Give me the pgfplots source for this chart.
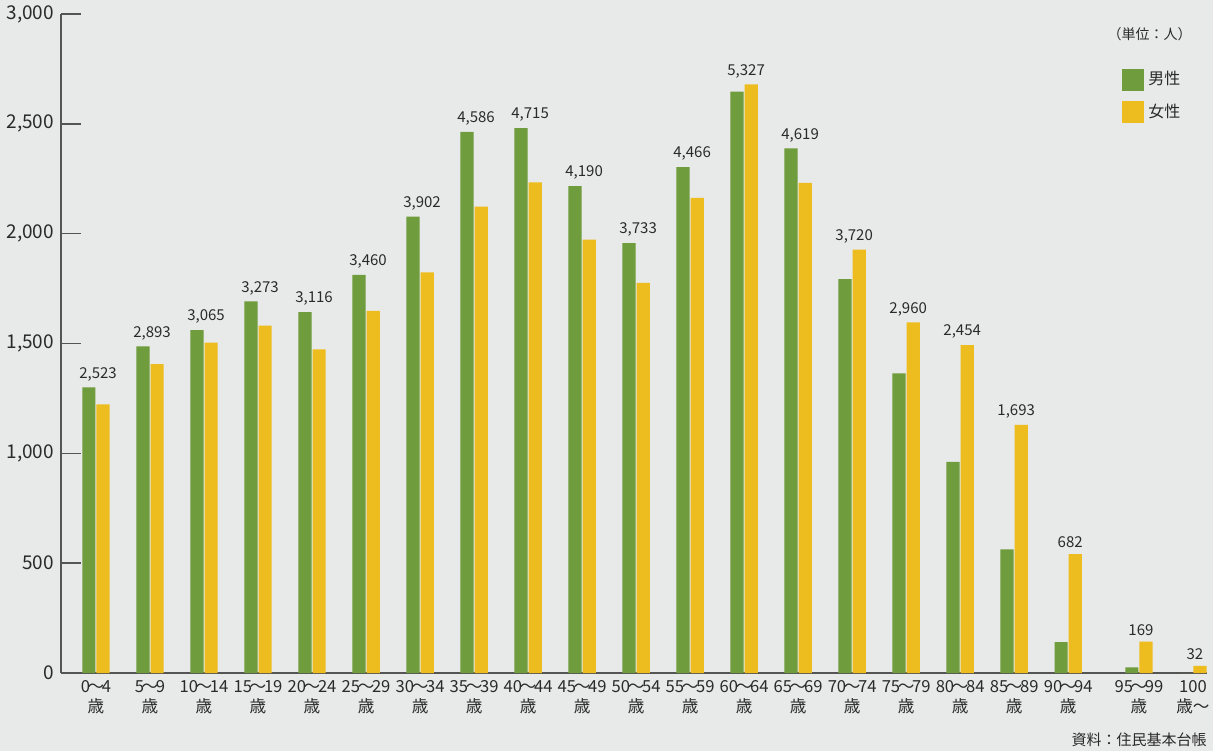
\documentclass[border=0pt]{standalone}
\usepackage{fontspec}
\setmainfont{Noto Sans CJK JP}
\usepackage{pgfplots}
\usepackage{pgfplotstable}
\pgfplotsset{compat=1.18}
\definecolor{mgreen}{HTML}{6F9C3D}
\definecolor{myellow}{HTML}{EDBD1F}
\definecolor{bg}{HTML}{E8E9E9}
\definecolor{axcol}{HTML}{555555}
\definecolor{txt}{HTML}{2A2A2A}
\newcommand{\w}{\hspace{-0.14em}〜\hspace{-0.14em}}

\pgfplotstableread{
x male female
0 1300 1223
1 1487 1406
2 1561 1504
3 1692 1581
4 1643 1473
5 1812 1648
6 2078 1824
7 2463 2123
8 2481 2234
9 2217 1973
10 1957 1776
11 2303 2163
12 2647 2680
13 2388 2231
14 1793 1927
15 1364 1596
16 961 1493
17 563 1130
18 141 541
19.31 26 143
20.31 0 32
}\pop

\pgfplotstableread{
x y lab
0 1300 2,523
1 1487 2,893
2 1561 3,065
3 1692 3,273
4 1643 3,116
5 1812 3,460
6 2078 3,902
7 2463 4,586
8 2481 4,715
9 2217 4,190
10 1957 3,733
11 2303 4,466
12 2680 5,327
13 2388 4,619
14 1927 3,720
15 1596 2,960
16 1493 2,454
17 1130 1,693
18 541 682
19.31 143 169
20.31 32 32
}\tot

\begin{document}
\begin{tikzpicture}
\useasboundingbox (0,0) rectangle (606.5pt,375.5pt);
\fill[bg] (0,0) rectangle (606.5pt,375.5pt);
\begin{axis}[
  at={(30.5pt,39pt)}, anchor=south west,
  scale only axis, width=573pt, height=329.5pt,
  xmin=-0.648, xmax=20.57, ymin=0, ymax=3000,
  axis x line*=bottom, axis y line*=left,
  axis line style={-, draw=axcol, line width=0.7pt},
  ytick={0,500,1000,1500,2000,2500,3000},
  ytick align=inside,
  major tick length=10pt,
  ytick style={draw=axcol, line width=0.7pt},
  xtick={0,1,2,3,4,5,6,7,8,9,10,11,12,13,14,15,16,17,18,19.31,20.31},
  xtick style={draw=none},
  xticklabels={{0\w 4\\歳},{5\w 9\\歳},{10\w 14\\歳},{15\w 19\\歳},{20\w 24\\歳},{25\w 29\\歳},{30\w 34\\歳},{35\w 39\\歳},{40\w 44\\歳},{45\w 49\\歳},{50\w 54\\歳},{55\w 59\\歳},{60\w 64\\歳},{65\w 69\\歳},{70\w 74\\歳},{75\w 79\\歳},{80\w 84\\歳},{85\w 89\\歳},{90\w 94\\歳},{95\w 99\\歳},{100\\歳〜}},
  xticklabel style={font=\fontsize{8.3}{10}\selectfont, align=center, text=txt},
  yticklabel style={font=\fontsize{9.5}{11}\selectfont, text=txt},
  /pgf/number format/1000 sep={,},
  /pgf/number format/assume math mode=true,
  clip=false,
  legend style={at={(0.9258,0.9196)}, anchor=north west, draw=none, fill=none, inner sep=0pt, row sep=4pt, font=\fontsize{8}{9}\selectfont, text=txt, cells={anchor=west}},
  legend image code/.code={\draw[#1, draw=none] (0pt,-5.5pt) rectangle (11pt,5.5pt);},
]
\addplot[ybar, bar width=6.6pt, bar shift=-3.55pt, fill=mgreen, draw=none] table[x=x,y=male]{\pop};
\addlegendentry{男性}
\addplot[ybar, bar width=6.6pt, bar shift=3.55pt, fill=myellow, draw=none] table[x=x,y=female]{\pop};
\addlegendentry{女性}
\addplot[draw=none, mark=none, forget plot, nodes near coords, point meta=explicit symbolic,
  nodes near coords style={font=\fontsize{7.5}{9}\selectfont, text=txt, anchor=south, inner sep=0pt, yshift=3pt, xshift=1pt}]
  table[x=x,y=y,meta=lab]{\tot};
\end{axis}
\node[anchor=east, inner sep=0pt, text=txt, font=\fontsize{7}{8}\selectfont] at (596pt,358.5pt) {（単位：人）};
\node[anchor=east, inner sep=0pt, text=txt, font=\fontsize{7.5}{9}\selectfont] at (603.5pt,5.5pt) {資料：住民基本台帳};
\end{tikzpicture}
\end{document}
